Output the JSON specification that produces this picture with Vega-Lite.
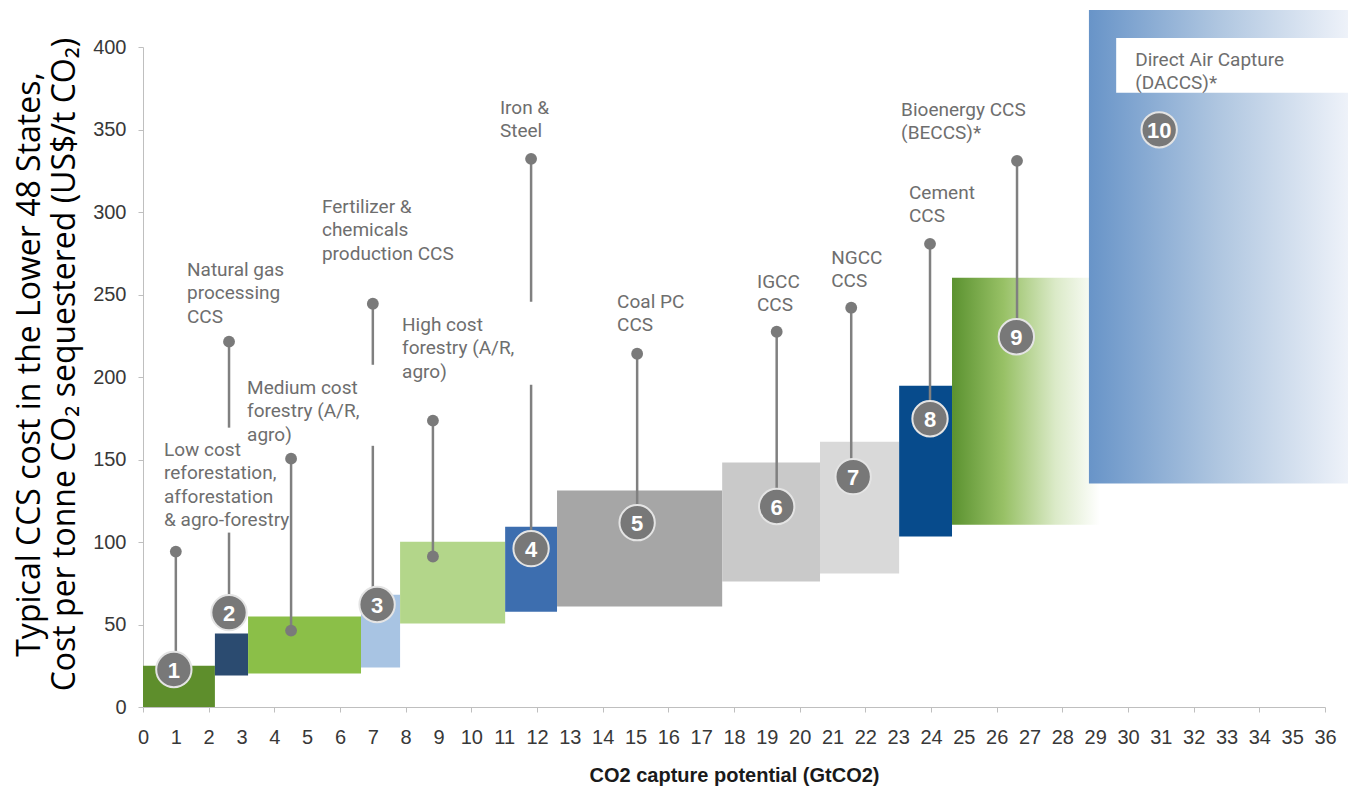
{
  "$schema": "https://vega.github.io/schema/vega-lite/v6.json",
  "width": 1182,
  "height": 660,
  "autosize": {"type": "none"},
  "padding": {"left": 143, "top": 47, "right": 30, "bottom": 86},
  "background": "white",
  "config": {
    "view": {"stroke": null},
    "axis": {"labelOverlap": false, "labelFlush": false, "labelSeparation": 0}
  },
  "resolve": {"axis": {"x": "independent", "y": "independent"}},
  "datasets": {
    "bars": [
      {"name": "Low cost forestry", "x0": 0, "x1": 2.19, "lo": 0, "hi": 25},
      {"name": "Natural gas processing", "x0": 2.19, "x1": 3.2, "lo": 19.1, "hi": 44.5},
      {"name": "Medium cost forestry", "x0": 3.2, "x1": 6.64, "lo": 20.3, "hi": 54.8},
      {"name": "Fertilizer & chemicals", "x0": 6.64, "x1": 7.83, "lo": 23.9, "hi": 68},
      {"name": "High cost forestry", "x0": 7.83, "x1": 11.03, "lo": 50.6, "hi": 100.2},
      {"name": "Iron & Steel", "x0": 11.03, "x1": 12.61, "lo": 57.8, "hi": 109.3},
      {"name": "Coal PC", "x0": 12.61, "x1": 17.64, "lo": 60.9, "hi": 131.2},
      {"name": "IGCC", "x0": 17.64, "x1": 20.62, "lo": 76, "hi": 148.2},
      {"name": "NGCC", "x0": 20.62, "x1": 23.03, "lo": 80.9, "hi": 160.8},
      {"name": "Cement", "x0": 23.03, "x1": 24.64, "lo": 103.3, "hi": 194.7},
      {"name": "BECCS", "x0": 24.64, "x1": 29.15, "lo": 110.5, "hi": 260.1},
      {"name": "DACCS", "x0": 28.81, "x1": 36.7, "lo": 135.4, "hi": 422.5}
    ],
    "box": [
      {"x0": 29.64, "x1": 36.7, "y0": 372.2, "y1": 405.5}
    ],
    "pins": [
      {"x": 1.0, "y0": 94.2, "y1": 23.9},
      {"x": 2.62, "y0": 221.4, "y1": 169.3},
      {"x": 2.62, "y0": 105.7, "y1": 57},
      {"x": 4.51, "y0": 150.5, "y1": 46.3},
      {"x": 7.0, "y0": 244.4, "y1": 207.4},
      {"x": 7.0, "y0": 158.3, "y1": 62},
      {"x": 8.83, "y0": 173.6, "y1": 91.2},
      {"x": 11.82, "y0": 332.2, "y1": 245.6},
      {"x": 11.82, "y0": 195.3, "y1": 96},
      {"x": 15.05, "y0": 214.1, "y1": 111.7},
      {"x": 19.3, "y0": 227.4, "y1": 121.5},
      {"x": 21.57, "y0": 242, "y1": 139.6},
      {"x": 23.97, "y0": 280.7, "y1": 174.7},
      {"x": 26.62, "y0": 331, "y1": 224.4}
    ],
    "dots": [
      {"x": 1.0, "y": 94.2},
      {"x": 2.62, "y": 221.4},
      {"x": 4.51, "y": 150.5},
      {"x": 4.51, "y": 46.3},
      {"x": 7.0, "y": 244.4},
      {"x": 8.83, "y": 173.6},
      {"x": 8.83, "y": 91.2},
      {"x": 11.82, "y": 332.2},
      {"x": 15.05, "y": 214.1},
      {"x": 19.3, "y": 227.4},
      {"x": 21.57, "y": 242},
      {"x": 23.97, "y": 280.7},
      {"x": 26.62, "y": 331}
    ],
    "markers": [
      {"num": "1", "x": 0.94, "y": 22.7},
      {"num": "2", "x": 2.62, "y": 57.2},
      {"num": "3", "x": 7.13, "y": 62.1},
      {"num": "4", "x": 11.82, "y": 96},
      {"num": "5", "x": 15.05, "y": 111.7},
      {"num": "6", "x": 19.3, "y": 121.5},
      {"num": "7", "x": 21.63, "y": 139.6},
      {"num": "8", "x": 23.97, "y": 174.7},
      {"num": "9", "x": 26.6, "y": 224.4},
      {"num": "10", "x": 30.95, "y": 349.8}
    ],
    "labels": [
      {"lines": ["Low cost", "reforestation,", "afforestation", "& agro-forestry"], "x": 0.64, "y": 152.3},
      {"lines": ["Natural gas", "processing", "CCS"], "x": 1.34, "y": 261.4},
      {"lines": ["Medium cost", "forestry (A/R,", "agro)"], "x": 3.17, "y": 189.9},
      {"lines": ["Fertilizer &", "chemicals", "production CCS"], "x": 5.45, "y": 299.5},
      {"lines": ["High cost", "forestry (A/R,", "agro)"], "x": 7.89, "y": 228},
      {"lines": ["Iron &", "Steel"], "x": 10.87, "y": 359.5},
      {"lines": ["Coal PC", "CCS"], "x": 14.44, "y": 242},
      {"lines": ["IGCC", "CCS"], "x": 18.7, "y": 254.1},
      {"lines": ["NGCC", "CCS"], "x": 20.96, "y": 268.6},
      {"lines": ["Cement", "CCS"], "x": 23.33, "y": 308},
      {"lines": ["Bioenergy CCS", " (BECCS)*"], "x": 23.09, "y": 358.3},
      {"lines": ["Direct Air Capture", "(DACCS)*"], "x": 30.22, "y": 388.6}
    ]
  },
  "layer": [
    {
      "data": {"name": "bars"},
      "transform": [{"filter": "datum.name !== 'BECCS' && datum.name !== 'DACCS'"}],
      "mark": {"type": "rect"},
      "encoding": {
        "x": {
          "field": "x0", "type": "quantitative",
          "scale": {"domain": [0, 36], "nice": false},
          "axis": {
            "values": [0,1,2,3,4,5,6,7,8,9,10,11,12,13,14,15,16,17,18,19,20,21,22,23,24,25,26,27,28,29,30,31,32,33,34,35,36],
            "orient": "bottom",
            "title": "CO2 capture potential (GtCO2)",
            "titleFont": "Liberation Sans", "titleFontSize": 20, "titleFontWeight": "bold", "titleColor": "#1a1a1a",
            "titleX": 591, "titleY": 68, "titleBaseline": "middle", "titleAlign": "center",
            "labelFont": "Liberation Sans", "labelFontSize": 20, "labelColor": "#383838",
            "labelPadding": 15, "tickSize": 5, "domainColor": "#bfbfbf",
            "tickColor": {"expr": "datum.value % 2 === 0 ? '#bfbfbf' : 'rgba(0,0,0,0)'"},
            "grid": false, "labelFlush": false, "labelOverlap": false, "labelBound": false
          }
        },
        "x2": {"field": "x1"},
        "y": {
          "field": "lo", "type": "quantitative",
          "scale": {"domain": [0, 400], "nice": false},
          "axis": {
            "values": [0, 50, 100, 150, 200, 250, 300, 350, 400],
            "orient": "left",
            "title": ["Typical CCS cost in the Lower 48 States,", "Cost per tonne CO₂ sequestered (US$/t CO₂)"],
            "titleFont": "Open Sans", "titleFontSize": 32, "titleFontWeight": "normal", "titleColor": "#000000",
            "titleLineHeight": 35, "titleAngle": -90,
            "titleX": -114, "titleY": 317, "titleBaseline": "middle", "titleAlign": "center",
            "labelFont": "Liberation Sans", "labelFontSize": 20, "labelColor": "#383838",
            "labelPadding": 12, "tickSize": 5, "tickColor": "#bfbfbf", "domainColor": "#bfbfbf",
            "grid": false
          }
        },
        "y2": {"field": "hi"},
        "color": {
          "field": "name", "type": "nominal", "legend": null,
          "scale": {
            "domain": ["Low cost forestry", "Natural gas processing", "Medium cost forestry", "Fertilizer & chemicals", "High cost forestry", "Iron & Steel", "Coal PC", "IGCC", "NGCC", "Cement"],
            "range": ["#5e8e2c", "#2b4b70", "#8bbf48", "#a8c4e3", "#b3d68a", "#3d6eaf", "#a6a6a6", "#c9c9c9", "#d9d9d9", "#074b8c"]
          }
        }
      }
    },
    {
      "data": {"name": "bars"},
      "transform": [{"filter": "datum.name === 'BECCS'"}],
      "mark": {
        "type": "rect",
        "color": {
          "gradient": "linear", "x1": 0, "y1": 0, "x2": 1, "y2": 0,
          "stops": [
            {"offset": 0, "color": "#5b9230"},
            {"offset": 0.35, "color": "#98c166"},
            {"offset": 0.7, "color": "#dbeac8"},
            {"offset": 1, "color": "#ffffff"}
          ]
        }
      },
      "encoding": {
        "x": {"field": "x0", "type": "quantitative", "axis": null},
        "x2": {"field": "x1"},
        "y": {"field": "lo", "type": "quantitative", "axis": null},
        "y2": {"field": "hi"}
      }
    },
    {
      "data": {"name": "bars"},
      "transform": [{"filter": "datum.name === 'DACCS'"}],
      "mark": {
        "type": "rect",
        "color": {
          "gradient": "linear", "x1": 0, "y1": 0, "x2": 1, "y2": 0,
          "stops": [
            {"offset": 0, "color": "#6894c8"},
            {"offset": 0.5, "color": "#afc6e0"},
            {"offset": 1, "color": "#eef2f9"}
          ]
        }
      },
      "encoding": {
        "x": {"field": "x0", "type": "quantitative", "axis": null},
        "x2": {"field": "x1"},
        "y": {"field": "lo", "type": "quantitative", "axis": null},
        "y2": {"field": "hi"}
      }
    },
    {
      "data": {"name": "box"},
      "mark": {"type": "rect", "color": "#ffffff"},
      "encoding": {
        "x": {"field": "x0", "type": "quantitative", "axis": null},
        "x2": {"field": "x1"},
        "y": {"field": "y0", "type": "quantitative", "axis": null},
        "y2": {"field": "y1"}
      }
    },
    {
      "data": {"name": "pins"},
      "mark": {"type": "rule", "color": "#808080", "strokeWidth": 2.5},
      "encoding": {
        "x": {"field": "x", "type": "quantitative", "axis": null},
        "y": {"field": "y0", "type": "quantitative", "axis": null},
        "y2": {"field": "y1"}
      }
    },
    {
      "data": {"name": "dots"},
      "mark": {"type": "point", "shape": "circle", "filled": true, "color": "#7a7a7a", "size": 140, "opacity": 1},
      "encoding": {
        "x": {"field": "x", "type": "quantitative", "axis": null},
        "y": {"field": "y", "type": "quantitative", "axis": null}
      }
    },
    {
      "data": {"name": "markers"},
      "mark": {"type": "point", "shape": "circle", "filled": true, "fill": "#787878", "stroke": "#e4e4e4", "strokeWidth": 2, "size": 1250, "opacity": 1},
      "encoding": {
        "x": {"field": "x", "type": "quantitative", "axis": null},
        "y": {"field": "y", "type": "quantitative", "axis": null}
      }
    },
    {
      "data": {"name": "markers"},
      "mark": {"type": "text", "font": "Liberation Sans", "fontSize": 22, "fontWeight": "bold", "color": "#ffffff", "baseline": "middle", "align": "center", "dy": 1},
      "encoding": {
        "x": {"field": "x", "type": "quantitative", "axis": null},
        "y": {"field": "y", "type": "quantitative", "axis": null},
        "text": {"field": "num"}
      }
    },
    {
      "data": {"name": "labels"},
      "mark": {"type": "text", "font": "Roboto", "fontSize": 19, "color": "#6e6e6e", "baseline": "alphabetic", "align": "left", "lineHeight": 23.5},
      "encoding": {
        "x": {"field": "x", "type": "quantitative", "axis": null},
        "y": {"field": "y", "type": "quantitative", "axis": null},
        "text": {"field": "lines"}
      }
    }
  ]
}
